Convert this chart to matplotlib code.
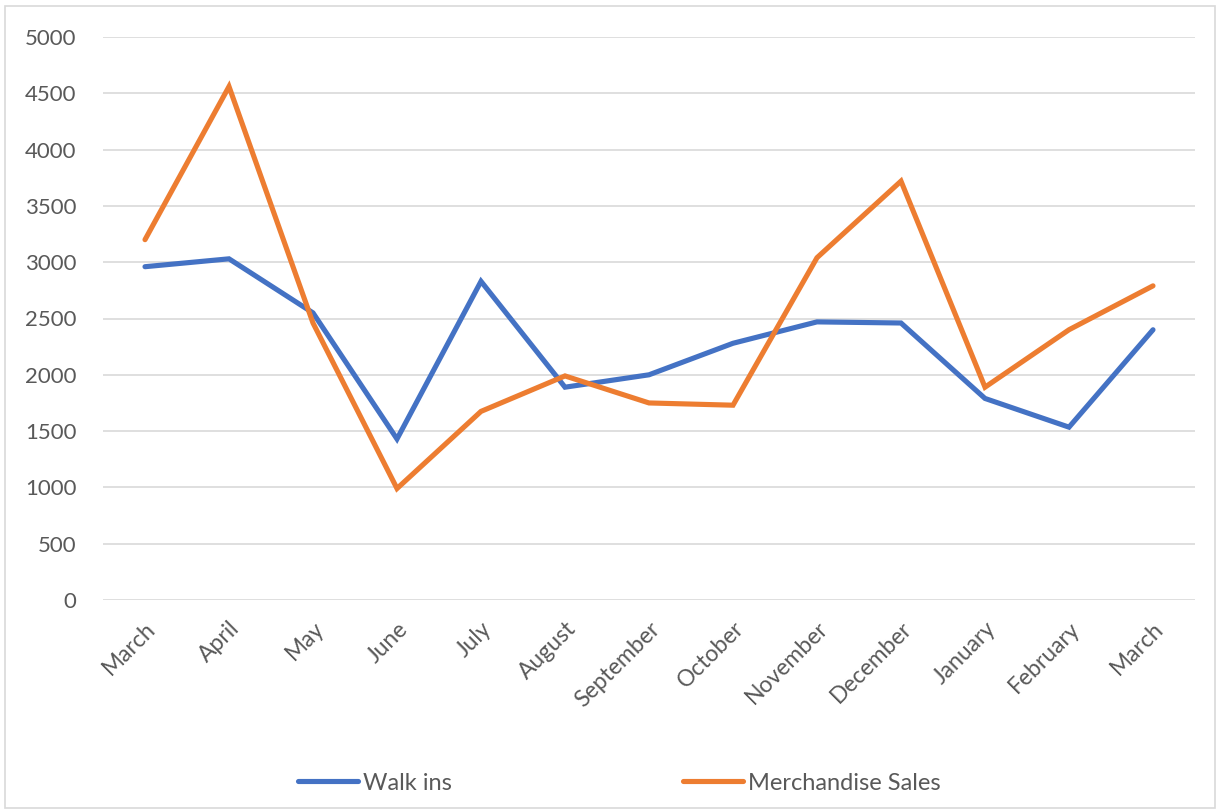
import matplotlib.pyplot as plt
from matplotlib.patches import Rectangle

months = ["March", "April", "May", "June", "July", "August", "September",
          "October", "November", "December", "January", "February", "March"]
walk_ins = [2960, 3030, 2550, 1430, 2830, 1890, 2000, 2280, 2470, 2460, 1790, 1535, 2400]
merch_sales = [3200, 4560, 2460, 990, 1675, 1990, 1750, 1730, 3040, 3720, 1890, 2400, 2790]
y_ticks = list(range(0, 5001, 500))

plt.rcParams['font.family'] = ['Lato', 'DejaVu Sans']
text_color = "#595959"

W, H = 1217, 810
fig = plt.figure(figsize=(W / 100, H / 100), dpi=100)
ax = fig.add_axes([103 / W, (H - 600) / H, (1195 - 103) / W, (600 - 37) / H])

x = list(range(len(months)))
ax.plot(x, walk_ins, color="#4472C4", lw=3.7, solid_capstyle="round",
        solid_joinstyle="miter", label="Walk ins")
ax.plot(x, merch_sales, color="#ED7D31", lw=3.7, solid_capstyle="round",
        solid_joinstyle="miter", label="Merchandise Sales")

ax.set_xlim(-0.5, len(months) - 0.5)
ax.set_ylim(0, 5000)
ax.set_yticks(y_ticks)
ax.set_yticklabels([str(v) for v in y_ticks])
ax.grid(axis="y", color="#D9D9D9", lw=1.2)
ax.set_axisbelow(True)
for s in ax.spines.values():
    s.set_visible(False)

ax.set_xticks(x)
ax.set_xticklabels(months, rotation=45, ha="right", rotation_mode="anchor")
ax.tick_params(axis="x", length=0, pad=13, labelsize=16.5, labelcolor=text_color)
ax.tick_params(axis="y", length=0, pad=19, labelsize=16, labelcolor=text_color)

fig.legend(loc="center", bbox_to_anchor=(619 / W, (H - 783) / H), ncol=2,
           frameon=False, fontsize=17, labelcolor=text_color,
           handlelength=2.55, handletextpad=0.2, columnspacing=9.8)

# light frame around the whole chart
fig.patches.append(Rectangle((5 / W, 2 / H), (W - 7) / W, (H - 8) / H,
                             transform=fig.transFigure, fill=False,
                             edgecolor="#D9D9D9", lw=1.2))

fig.savefig("out.png", dpi=100)
